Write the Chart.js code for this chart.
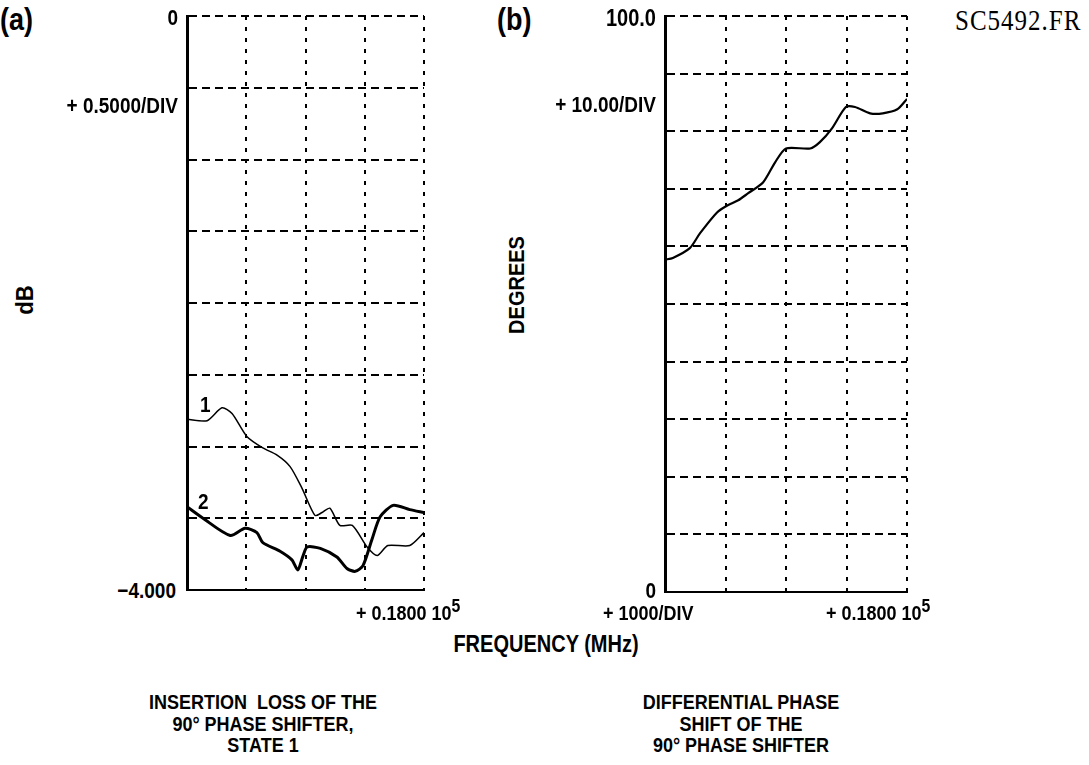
<!DOCTYPE html>
<html>
<head>
<meta charset="utf-8">
<script src="https://cdn.jsdelivr.net/npm/chart.js@4"></script>
<style>
  body { margin: 0; background: #fff; width: 1089px; height: 765px; position: relative; overflow: hidden;
         font-family: "Liberation Sans", Arial, sans-serif; font-weight: bold; color: #000; }
  .t { position: absolute; white-space: nowrap; line-height: 1; transform: scaleY(1.15); }
  .r { text-align: right; }
  .c { text-align: center; }
  .rot { transform: rotate(-90deg) scaleY(1.1); text-align: center; }
  .box { position: absolute; }
  sup { font-size: 88%; vertical-align: 0; position: relative; top: -7px; }
</style>
</head>
<body>
<div class="box" id="boxA" style="left:177px; top:6px; width:257px; height:594px;"><canvas id="chartA"></canvas></div>
<div class="box" id="boxB" style="left:655px; top:6px; width:262px; height:596px;"><canvas id="chartB"></canvas></div>

<div class="t" style="left:0px; top:7px; font-size:27px;">(a)</div>
<div class="t r" style="right:911px; top:8px; font-size:19px;">0</div>
<div class="t r" style="right:911px; top:96px; font-size:19px;">+ 0.5000/DIV</div>
<div class="t rot" style="left:-5px; width:60px; top:289px; font-size:22px;">dB</div>
<div class="t r" style="right:913px; top:581px; font-size:19px;">&minus;4.000</div>
<div class="t" style="left:200px; top:395px; font-size:19px;">1</div>
<div class="t" style="left:198px; top:492px; font-size:19px;">2</div>
<div class="t" style="left:356px; top:604px; font-size:18px;">+ 0.1800 10<sup>5</sup></div>

<div class="t" style="left:497px; top:7px; font-size:27px;">(b)</div>
<div class="t r" style="right:433px; top:8px; font-size:20px;">100.0</div>
<div class="t r" style="right:433px; top:95px; font-size:19px;">+ 10.00/DIV</div>
<div class="t rot" style="left:456px; width:120px; top:275px; font-size:20px;">DEGREES</div>
<div class="t r" style="right:433px; top:581px; font-size:19px;">0</div>
<div class="t" style="left:603px; top:604px; font-size:18px;">+ 1000/DIV</div>
<div class="t" style="left:826px; top:604px; font-size:18px;">+ 0.1800 10<sup>5</sup></div>
<div class="t" style="left:955px; top:8px; font-size:25px; letter-spacing:1px; font-weight:normal; font-family:'Liberation Serif', serif;">SC5492.FR</div>

<div class="t c" style="left:346px; width:400px; top:634px; font-size:20px;">FREQUENCY (MHz)</div>

<div class="t c" style="left:63px; width:400px; top:696px; font-size:18px; line-height:18.5px;">INSERTION&nbsp; LOSS OF THE<br>90° PHASE SHIFTER,<br>STATE 1</div>
<div class="t c" style="left:541px; width:400px; top:696px; font-size:18px; line-height:18.5px;">DIFFERENTIAL PHASE<br>SHIFT OF THE<br>90° PHASE SHIFTER</div>

<script>
// frequency in MHz, 1000 MHz / div, ending at 0.1800 10^5
const freqMin = 14000;
const freqMax = 18000;

// (a) insertion loss, dB
const freqState1 = [14000, 14340, 14590, 14760, 15010, 15280, 15520, 15740, 15940, 16160, 16280, 16410, 16580, 16790, 17040, 17210, 17390, 17760, 18000];
const lossCurve1 = [-2.81, -2.82, -2.73, -2.77, -2.93, -3.01, -3.06, -3.14, -3.29, -3.48, -3.46, -3.43, -3.55, -3.55, -3.70, -3.76, -3.69, -3.69, -3.60];
const freqState2 = [14000, 14270, 14730, 14980, 15180, 15280, 15570, 15770, 15870, 15960, 16030, 16250, 16530, 16700, 16840, 16970, 17120, 17260, 17480, 17760, 18000];
const lossCurve2 = [-3.42, -3.50, -3.62, -3.57, -3.60, -3.67, -3.73, -3.79, -3.86, -3.76, -3.70, -3.71, -3.77, -3.85, -3.87, -3.83, -3.65, -3.49, -3.41, -3.44, -3.46];

// (b) differential phase, degrees
const freqPhase = [14000, 14130, 14410, 14580, 14860, 15030, 15210, 15370, 15620, 15820, 16000, 16400, 16560, 16760, 16990, 17140, 17390, 17600, 17840, 18000];
const phaseDiff = [57.7, 58.0, 59.7, 62.3, 65.9, 67.1, 68.0, 69.2, 71.1, 74.6, 77.0, 77.0, 78.1, 80.5, 84.2, 84.2, 83.1, 83.1, 83.8, 85.6];

const toPoints = (xs, ys) => xs.map((x, i) => ({ x: x, y: ys[i] }));

const makeScales = (yMin, yMax, yStep) => ({
  x: {
    type: "linear",
    min: freqMin,
    max: freqMax,
    ticks: { display: false, stepSize: 1000 },
    grid: { color: "#000", lineWidth: 2, drawTicks: false },
    border: { display: true, color: "#000", width: 2, dash: [4, 7] },
  },
  y: {
    type: "linear",
    min: yMin,
    max: yMax,
    ticks: { display: false, stepSize: yStep },
    grid: { color: "#000", lineWidth: 2, drawTicks: false },
    border: { display: true, color: "#000", width: 3, dash: [8, 5] },
  },
});

const baseOptions = (scales) => ({
  responsive: true,
  maintainAspectRatio: false,
  animation: false,
  layout: { padding: 10 },
  plugins: { legend: { display: false }, tooltip: { enabled: false } },
  elements: { point: { radius: 0 } },
  scales: scales,
});

new Chart(document.getElementById("chartA"), {
  type: "line",
  data: {
    datasets: [
      { label: "1", data: toPoints(freqState1, lossCurve1), borderColor: "#000", borderWidth: 1.5, tension: 0.25, fill: false },
      { label: "2", data: toPoints(freqState2, lossCurve2), borderColor: "#000", borderWidth: 3, tension: 0.25, fill: false },
    ],
  },
  options: baseOptions(makeScales(-4, 0, 0.5)),
});

new Chart(document.getElementById("chartB"), {
  type: "line",
  data: {
    datasets: [
      { label: "phase", data: toPoints(freqPhase, phaseDiff), borderColor: "#000", borderWidth: 2.2, tension: 0.25, fill: false },
    ],
  },
  options: baseOptions(makeScales(0, 100, 10)),
});
</script>
</body>
</html>
